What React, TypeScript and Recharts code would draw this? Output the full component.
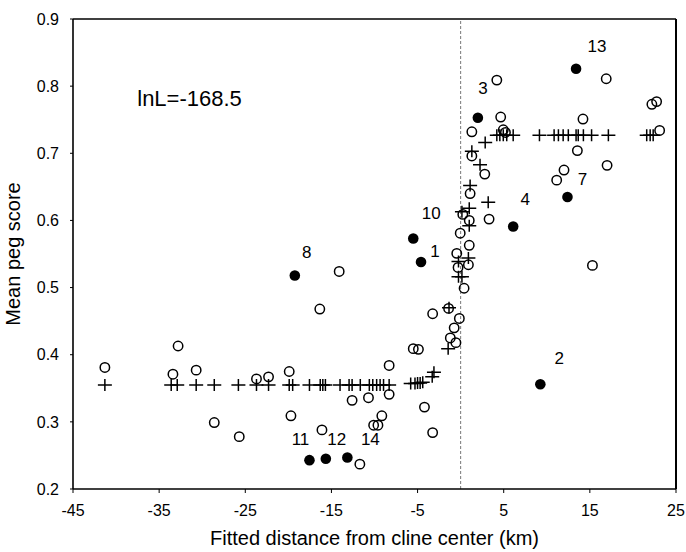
import React from 'react';
import {
  ScatterChart,
  Scatter,
  XAxis,
  YAxis,
  ReferenceLine,
  ReferenceDot,
} from 'recharts';

// tick labels
const xTicks = [-45, -35, -25, -15, -5, 5, 15, 25];
const yTicks = [0.2, 0.3, 0.4, 0.5, 0.6, 0.7, 0.8, 0.9];

// observed populations (open circles): [distance km, mean peg score]
const observed: [number, number][] = [
  [-41.3, 0.381], [-32.8, 0.413], [-33.4, 0.371], [-30.7, 0.377], [-28.6, 0.299],
  [-25.7, 0.278], [-23.7, 0.364], [-22.3, 0.367], [-19.9, 0.375], [-19.7, 0.309],
  [-16.1, 0.288], [-16.35, 0.468], [-14.1, 0.524], [-12.6, 0.332], [-10.7, 0.336],
  [-10.1, 0.295], [-9.6, 0.295], [-9.15, 0.309], [-8.3, 0.384], [-8.3, 0.341],
  [-11.7, 0.237], [-5.5, 0.409], [-4.9, 0.408], [-4.2, 0.322], [-3.25, 0.284],
  [-3.25, 0.461], [-1.4, 0.469], [-0.15, 0.454], [-0.75, 0.44], [-1.2, 0.425],
  [-0.55, 0.418], [0.4, 0.499], [-0.3, 0.53], [0.9, 0.534], [-0.45, 0.551],
  [1.0, 0.563], [-0.05, 0.581], [1.0, 0.6], [0.25, 0.609], [1.1, 0.64],
  [3.3, 0.602], [2.8, 0.669], [1.3, 0.696], [1.3, 0.732], [4.2, 0.809],
  [4.65, 0.754], [4.95, 0.735], [5.2, 0.731], [11.15, 0.66], [12.0, 0.675],
  [13.55, 0.704], [14.2, 0.751], [15.3, 0.533], [16.9, 0.811], [17.0, 0.682],
  [22.2, 0.773], [22.75, 0.777], [23.1, 0.734],
];

// fitted cline values (plus signs)
const fitted: [number, number][] = [
  [-41.3, 0.355], [-33.6, 0.355], [-32.9, 0.355], [-30.7, 0.355], [-28.6, 0.355],
  [-25.8, 0.355], [-23.7, 0.355], [-22.3, 0.355], [-19.9, 0.355], [-19.5, 0.355],
  [-17.55, 0.355], [-16.3, 0.355], [-16.0, 0.355], [-15.7, 0.355], [-14.0, 0.355],
  [-12.95, 0.355], [-12.6, 0.355], [-11.65, 0.355], [-10.6, 0.355], [-10.2, 0.355],
  [-9.75, 0.355], [-9.35, 0.355], [-8.95, 0.355], [-8.3, 0.355],
  [-5.8, 0.357], [-5.3, 0.357], [-5.0, 0.358], [-4.7, 0.358], [-4.4, 0.359],
  [-3.3, 0.367], [-3.1, 0.374],
  [-1.45, 0.409], [-1.35, 0.47], [-0.25, 0.516], [0.15, 0.516], [-0.25, 0.539],
  [0.9, 0.544], [1.0, 0.592], [0.15, 0.613], [1.0, 0.618], [3.2, 0.627],
  [1.1, 0.652], [2.25, 0.683], [1.3, 0.703], [2.85, 0.716],
  [4.2, 0.727], [4.55, 0.727], [4.95, 0.727], [5.35, 0.727], [6.1, 0.727],
  [9.15, 0.727], [10.85, 0.727], [11.35, 0.727], [11.9, 0.727], [12.5, 0.727],
  [13.4, 0.727], [13.65, 0.727], [14.25, 0.727], [15.2, 0.727], [17.15, 0.727],
  [21.6, 0.727], [22.0, 0.727], [22.35, 0.727],
];

// numbered populations (filled circles)
const numberedIds = ['1', '2', '3', '4', '7', '8', '10', '11', '12', '13', '14'];
const numberedX = [-4.6, 9.25, 2.0, 6.1, 12.4, -19.25, -5.5, -17.55, -15.65, 13.4, -13.15];
const numberedY = [0.538, 0.356, 0.753, 0.591, 0.635, 0.518, 0.573, 0.243, 0.245, 0.826, 0.247];

// where each number sits relative to its dot (px)
const labelOffset: Record<string, [number, number]> = {
  '1': [14, -11], '2': [19, -26], '3': [5, -29], '4': [12, -27], '7': [15, -17],
  '8': [12, -23], '10': [18, -25], '11': [-9, -21], '12': [11, -19], '13': [21, -22],
  '14': [23, -18],
};

const FONT = '"Liberation Sans", Arial, Helvetica, sans-serif';

const observedData = observed.map(([x, y]) => ({ x, y }));
const fittedData = fitted.map(([x, y]) => ({ x, y }));
const numberedData = numberedIds.map((id, i) => ({ id, x: numberedX[i], y: numberedY[i] }));

const OpenCircle = (props: any) => (
  <circle cx={props.cx} cy={props.cy} r={4.7} fill="none" stroke="#000" strokeWidth={1.5} />
);

const PlusMark = (props: any) => {
  const { cx, cy } = props;
  return (
    <path
      d={`M${cx - 7},${cy}H${cx + 7}M${cx},${cy - 6}V${cy + 6}`}
      stroke="#000"
      strokeWidth={1.5}
      fill="none"
    />
  );
};

const NumberedDot = (props: any) => {
  const { cx, cy, payload } = props;
  const [dx, dy] = labelOffset[payload.id] || [10, -20];
  return (
    <g>
      <circle cx={cx} cy={cy} r={5.3} fill="#000" />
      <text
        x={cx + dx}
        y={cy + dy}
        textAnchor="middle"
        dominantBaseline="central"
        fontSize={17}
        fontFamily={FONT}
        fill="#000"
      >
        {payload.id}
      </text>
    </g>
  );
};

const YTitle = (props: any) => {
  const vb = props.viewBox || { y: 19, height: 470 };
  const cy = vb.y + vb.height / 2;
  return (
    <text
      x={13}
      y={cy}
      transform={`rotate(-90 13 ${cy})`}
      textAnchor="middle"
      dominantBaseline="central"
      fontSize={20}
      fontFamily={FONT}
      fill="#000"
    >
      Mean peg score
    </text>
  );
};

const XTitle = (props: any) => {
  const vb = props.viewBox || { x: 73, width: 603 };
  return (
    <text
      x={vb.x + vb.width / 2}
      y={545}
      textAnchor="middle"
      fontSize={20}
      fontFamily={FONT}
      fill="#000"
    >
      Fitted distance from cline center (km)
    </text>
  );
};

const tickStyle = { fontSize: 16, fill: '#000', fontFamily: FONT };

export default function App() {
  return (
    <div style={{ position: 'absolute', left: 0, top: 0, background: '#fff' }}>
      <ScatterChart
        width={686}
        height={552}
        margin={{ top: 19, right: 10, bottom: 0, left: 0 }}
      >
        <XAxis
          type="number"
          dataKey="x"
          domain={[-45, 25]}
          ticks={xTicks}
          interval={0}
          height={63}
          tick={tickStyle}
          tickSize={4}
          tickMargin={12}
          axisLine={{ stroke: '#000', strokeWidth: 1.6 }}
          tickLine={{ stroke: '#000' }}
          label={{ content: XTitle }}
        />
        <YAxis
          type="number"
          dataKey="y"
          domain={[0.2, 0.9]}
          ticks={yTicks}
          interval={0}
          width={73}
          tick={tickStyle}
          tickFormatter={(v: number) => v.toFixed(1)}
          tickSize={3}
          tickMargin={11}
          axisLine={{ stroke: '#000', strokeWidth: 1.6 }}
          tickLine={{ stroke: '#000' }}
          label={{ content: YTitle }}
        />
        <ReferenceLine y={0.9} stroke="#000" strokeWidth={1.4} />
        <ReferenceLine x={25} stroke="#000" strokeWidth={2} />
        <ReferenceLine x={0} stroke="#777" strokeWidth={1} strokeDasharray="3 2" />
        <ReferenceDot
          x={-37.54}
          y={0.7826}
          r={0}
          fill="none"
          stroke="none"
          label={{
            value: 'lnL=-168.5',
            position: 'right',
            offset: 0,
            fontSize: 22,
            fontFamily: FONT,
            fill: '#000',
          }}
        />
        <Scatter data={fittedData} shape={PlusMark} isAnimationActive={false} />
        <Scatter data={observedData} shape={OpenCircle} isAnimationActive={false} />
        <Scatter data={numberedData} shape={NumberedDot} isAnimationActive={false} />
      </ScatterChart>
    </div>
  );
}
